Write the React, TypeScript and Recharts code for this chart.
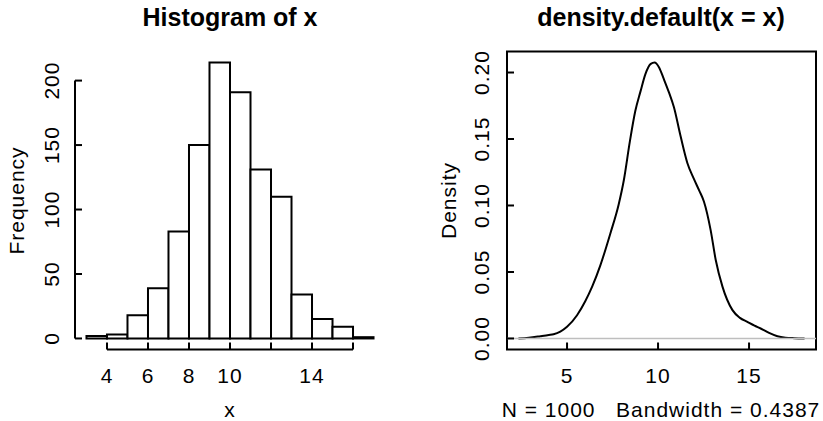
import React from "react";
import {
  ComposedChart,
  Line,
  ReferenceArea,
  ReferenceLine,
  XAxis,
  YAxis,
} from "recharts";

// histogram of x: bin breaks and counts
const breaks = [3, 4, 5, 6, 7, 8, 9, 10, 11, 12, 13, 14, 15, 16, 17];
const counts = [2, 3, 18, 39, 83, 150, 214, 191, 131, 110, 34, 15, 9, 1];
const histXTicks = [4, 6, 8, 10, 12, 14, 16];
const histXLabels = [4, 6, 8, 10, 14];
const histYTicks = [0, 50, 100, 150, 200];

// kernel density estimate
const densityX = [
  2.33, 2.9, 3.53, 4.0, 4.26, 4.63, 5.0, 5.55, 6.0, 6.38, 6.83, 7.38, 7.84,
  8.12, 8.45, 8.75, 9.04, 9.31, 9.6, 9.81, 10.05, 10.32, 10.6, 10.87, 11.24,
  11.61, 11.97, 12.27, 12.52, 12.89, 13.17, 13.54, 14.09, 14.5, 14.91, 15.3,
  15.64, 16.1, 16.56, 17.0, 17.48, 18.05,
];
const densityY = [
  0, 0.0006, 0.0017, 0.0026, 0.0032, 0.0052, 0.0088, 0.0175, 0.028, 0.039,
  0.055, 0.079, 0.101, 0.119, 0.148, 0.171, 0.186, 0.199, 0.2065, 0.2075,
  0.204, 0.195, 0.185, 0.174, 0.152, 0.132, 0.12, 0.111, 0.103, 0.0815, 0.059,
  0.039, 0.0213, 0.0155, 0.0125, 0.0097, 0.0075, 0.0042, 0.0017, 0.0006,
  0.0002, 0,
];
const densityXTicks = [5, 10, 15];
const densityYTicks = [0, 0.05, 0.1, 0.15, 0.2];
const sampleSize = 1000;
const bandwidth = "0.4387";

const bins = counts.map((count, i) => ({
  lo: breaks[i],
  hi: breaks[i + 1],
  mid: (breaks[i] + breaks[i + 1]) / 2,
  count,
}));
const densityData = densityX.map((x, i) => ({ x, y: densityY[i] }));

// R style 4% padding around the data range
const pad = (lo: number, hi: number): [number, number] => [
  lo - 0.04 * (hi - lo),
  hi + 0.04 * (hi - lo),
];
const histXDomain = pad(breaks[0], breaks[breaks.length - 1]);
const histYDomain = pad(0, Math.max(...counts));
const densXDomain = pad(Math.min(...densityX), Math.max(...densityX));
const densYDomain = pad(Math.min(...densityY), Math.max(...densityY));

const FONT = '"Liberation Sans", Arial, Helvetica, sans-serif';
const FS = 21;
const LS = 1;

const xTick = (labels: number[] | null, baseline: number) => (props: any) => {
  const v = props.payload.value;
  if (labels && !labels.includes(v)) return <g />;
  return (
    <text
      x={props.x}
      y={baseline}
      textAnchor="middle"
      fontSize={FS}
      fontFamily={FONT}
      letterSpacing={LS}
      fill="#000"
    >
      {String(v)}
    </text>
  );
};

const yTick = (cx: number, fmt: (v: number) => string) => (props: any) => (
  <text
    x={cx}
    y={props.y}
    transform={`rotate(-90 ${cx} ${props.y})`}
    textAnchor="middle"
    dominantBaseline="central"
    fontSize={FS}
    fontFamily={FONT}
    letterSpacing={LS}
    fill="#000"
  >
    {fmt(props.payload.value)}
  </text>
);

const Txt = ({ cx, cy, size, bold, rotate, children }: any) => (
  <div
    style={{
      position: "absolute",
      left: cx - 200,
      top: cy - size / 2,
      width: 400,
      height: size,
      lineHeight: `${size}px`,
      fontSize: size,
      fontWeight: bold ? "bold" : "normal",
      letterSpacing: bold ? 0 : LS,
      textAlign: "center",
      whiteSpace: "pre",
      transform: rotate ? "rotate(-90deg)" : undefined,
    }}
  >
    {children}
  </div>
);

const axisCommon = {
  type: "number" as const,
  allowDataOverflow: true,
  interval: 0 as const,
  mirror: true,
  axisLine: false,
  stroke: "#000",
  tickSize: 7,
  tickMargin: 0,
  tickLine: { stroke: "#000", strokeWidth: 2 },
};

function Histogram() {
  return (
    <ComposedChart
      width={411}
      height={421}
      data={bins}
      margin={{ top: 51.5, right: 26, bottom: 71.5, left: 75 }}
    >
      <XAxis
        {...axisCommon}
        dataKey="mid"
        domain={histXDomain}
        ticks={histXTicks}
        height={1}
        tick={xTick(histXLabels, 383)}
      />
      <YAxis
        {...axisCommon}
        dataKey="count"
        domain={histYDomain}
        ticks={histYTicks}
        width={1}
        tick={yTick(52, (v) => String(v))}
      />
      {bins.map((b) => (
        <ReferenceArea
          key={b.lo}
          x1={b.lo}
          x2={b.hi}
          y1={0}
          y2={b.count}
          fill="#fff"
          fillOpacity={1}
          stroke="#000"
          strokeWidth={2}
          ifOverflow="visible"
        />
      ))}
      <ReferenceLine
        segment={[
          { x: histXTicks[0], y: histYDomain[0] },
          { x: histXTicks[histXTicks.length - 1], y: histYDomain[0] },
        ]}
        stroke="#000"
        strokeWidth={2}
        ifOverflow="visible"
      />
      <ReferenceLine
        segment={[
          { x: histXDomain[0], y: histYTicks[0] },
          { x: histXDomain[0], y: histYTicks[histYTicks.length - 1] },
        ]}
        stroke="#000"
        strokeWidth={2}
        ifOverflow="visible"
      />
    </ComposedChart>
  );
}

function DensityPlot() {
  return (
    <ComposedChart
      width={412}
      height={421}
      data={densityData}
      margin={{ top: 51.5, right: 7, bottom: 71.5, left: 96 }}
    >
      <XAxis
        {...axisCommon}
        dataKey="x"
        domain={densXDomain}
        ticks={densityXTicks}
        height={1}
        tick={xTick(null, 383)}
      />
      <YAxis
        {...axisCommon}
        dataKey="y"
        domain={densYDomain}
        ticks={densityYTicks}
        width={1}
        tick={yTick(482 - 411, (v) => v.toFixed(2))}
      />
      <ReferenceArea
        x1={densXDomain[0]}
        x2={densXDomain[1]}
        y1={densYDomain[0]}
        y2={densYDomain[1]}
        fill="none"
        stroke="#000"
        strokeWidth={2}
        ifOverflow="visible"
      />
      <Line
        type="monotone"
        dataKey="y"
        stroke="#000"
        strokeWidth={2}
        dot={false}
        activeDot={false}
        isAnimationActive={false}
      />
      <ReferenceLine y={0} stroke="#BEBEBE" strokeWidth={1.5} ifOverflow="visible" />
    </ComposedChart>
  );
}

export default function App() {
  return (
    <div
      style={{
        position: "fixed",
        left: 0,
        top: 0,
        width: 823,
        height: 421,
        background: "#fff",
        fontFamily: FONT,
        color: "#000",
        overflow: "hidden",
      }}
    >
      <div style={{ position: "absolute", left: 0, top: 0 }}>
        <Histogram />
      </div>
      <div style={{ position: "absolute", left: 411, top: 0 }}>
        <DensityPlot />
      </div>
      <Txt cx={230} cy={17.5} size={25} bold>
        Histogram of x
      </Txt>
      <Txt cx={661} cy={17.5} size={25} bold>
        density.default(x = x)
      </Txt>
      <Txt cx={230} cy={409} size={FS}>
        x
      </Txt>
      <Txt cx={661} cy={409} size={FS}>
        {`N = ${sampleSize}   Bandwidth = ${bandwidth}`}
      </Txt>
      <Txt cx={16} cy={200.8} size={FS} rotate>
        Frequency
      </Txt>
      <Txt cx={447.5} cy={200.8} size={FS} rotate>
        Density
      </Txt>
    </div>
  );
}
